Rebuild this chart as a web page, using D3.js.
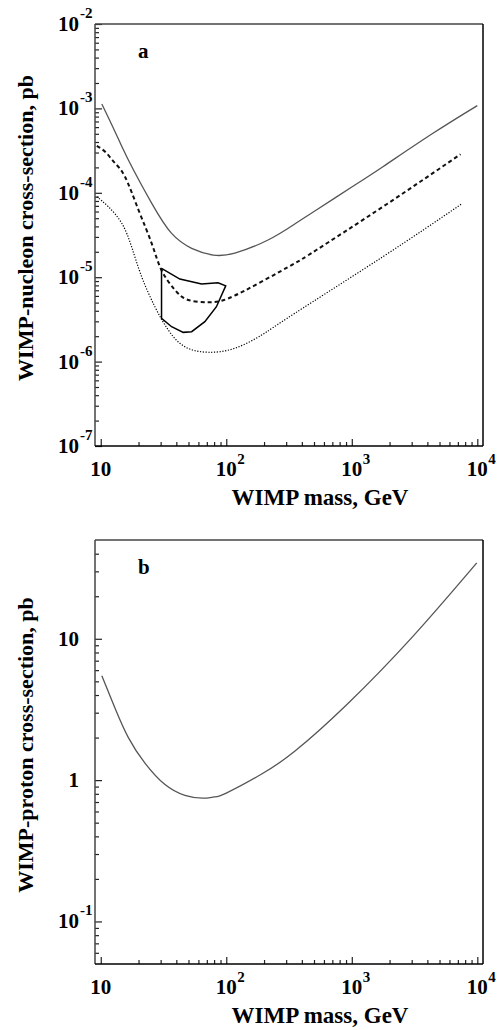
<!DOCTYPE html>
<html>
<head>
<meta charset="utf-8">
<script src="https://cdn.jsdelivr.net/npm/d3@7"></script>
<style>
  body { margin: 0; background: #fff; }
  svg text { font-family: "Liberation Serif", "Times New Roman", serif; font-weight: bold; fill: #000; }
</style>
</head>
<body>
<div id="app"></div>
<script>
// values, [mass GeV, cross-section pb]
const solidA = [[10.2, 1.13e-3], [13, 5.3e-4], [16.6, 2.45e-4], [25.5, 7.5e-5], [36.7, 3.3e-5], [53, 2.2e-5],
  [78.7, 1.83e-5], [117, 1.93e-5], [215, 2.76e-5], [351, 4.27e-5], [522, 6.25e-5], [1000, 1.17e-4],
  [1770, 2.04e-4], [4430, 5.07e-4], [10000, 1.08e-3]];
const dashedA = [[9.3, 3.6e-4], [11, 3.0e-4], [13, 2.24e-4], [15.6, 1.55e-4], [20, 6.25e-5], [25.5, 2.5e-5],
  [30.5, 1.21e-5], [39, 7.05e-6], [49.8, 5.37e-6], [71.8, 5.04e-6], [103.5, 5.6e-6], [191, 8.85e-6],
  [351, 1.46e-5], [522, 2.1e-5], [1770, 6.84e-5], [7350, 2.86e-4]];
const dottedA = [[9.3, 9e-5], [11.5, 6.84e-5], [14.7, 4.36e-5], [17.6, 2.3e-5], [21.2, 1.01e-5], [27, 4.47e-6],
  [34.5, 2.37e-6], [46.8, 1.5e-6], [71.8, 1.29e-6], [117, 1.44e-6], [191, 2.06e-6], [351, 3.73e-6],
  [1770, 1.75e-5], [7480, 7.36e-5]];
const regionA = [[30.5, 1.27e-5], [42.7, 9.5e-6], [63.6, 8.3e-6], [86, 8.6e-6], [99, 7.9e-6], [83.5, 4.47e-6],
  [67.5, 2.97e-6], [53, 2.26e-6], [45.4, 2.22e-6], [36.7, 2.59e-6], [30.5, 3.26e-6], [30.5, 1.27e-5]];
const curveB = [[10.2, 5.47], [13, 3.23], [16.6, 2.0], [22.5, 1.32], [32.5, 0.93], [46.8, 0.78], [65, 0.745],
  [80, 0.76], [100, 0.81], [190, 1.1], [351, 1.6], [906, 3.4], [3070, 10.4], [9900, 34.4]];

const massTicks = [10, 100, 1000, 10000];
const massLabels = [["10", ""], ["10", "2"], ["10", "3"], ["10", "4"]];
const sigmaTicksA = [1e-7, 1e-6, 1e-5, 1e-4, 1e-3, 1e-2];
const sigmaLabelsA = [["10", "-7"], ["10", "-6"], ["10", "-5"], ["10", "-4"], ["10", "-3"], ["10", "-2"]];
const sigmaTicksB = [0.1, 1, 10];
const sigmaLabelsB = [["10", "-1"], ["1", ""], ["10", ""]];

const W = 504, H = 1030;
const left = 95, right = 483;

const svg = d3.select("#app").append("svg")
    .attr("width", W)
    .attr("height", H);

const x = d3.scaleLog().domain([9, 11100]).range([left, right]);

// minor ticks: 2..9 of each decade inside a domain
function minorTicks(domain) {
    let out = [];
    for (let e = Math.floor(Math.log10(domain[0])); e <= Math.ceil(Math.log10(domain[1])); e++) {
        for (let k = 2; k <= 9; k++) {
            let v = k * Math.pow(10, e);
            if (v > domain[0] * 1.001 && v < domain[1] * 0.999) out.push(v);
        }
    }
    return out;
}

function drawPanel(top, bottom, yDomain, yTicks, yLabels, yTitle, letter) {
    const y = d3.scaleLog().domain(yDomain).range([bottom, top]);
    const g = svg.append("g");

    // ticks (inward), no domain path
    const addAxis = (axis, tr) => {
        const a = g.append("g").attr("transform", tr).call(axis);
        a.select(".domain").remove();
        a.selectAll("line").attr("stroke", "#222").attr("stroke-width", 1.2);
    };
    addAxis(d3.axisBottom(x).tickValues(minorTicks(x.domain())).tickSize(-4).tickFormat(""), `translate(0,${bottom})`);
    addAxis(d3.axisBottom(x).tickValues(massTicks).tickSize(-7).tickFormat(""), `translate(0,${bottom})`);
    addAxis(d3.axisLeft(y).tickValues(minorTicks(yDomain)).tickSize(-4).tickFormat(""), `translate(${left},0)`);
    addAxis(d3.axisLeft(y).tickValues(yTicks).tickSize(-7).tickFormat(""), `translate(${left},0)`);

    // frame
    g.append("line").attr("x1", left).attr("x2", left).attr("y1", top).attr("y2", bottom)
        .attr("stroke", "#444").attr("stroke-width", 1.5);
    g.append("line").attr("x1", left).attr("x2", right).attr("y1", top).attr("y2", top)
        .attr("stroke", "#444").attr("stroke-width", 1.5);
    g.append("line").attr("x1", right).attr("x2", right).attr("y1", top).attr("y2", bottom)
        .attr("stroke", "#000").attr("stroke-width", 1.5);
    g.append("line").attr("x1", left).attr("x2", right).attr("y1", bottom).attr("y2", bottom)
        .attr("stroke", "#000").attr("stroke-width", 1.5);

    // y labels: base right-aligned, exponent after
    yTicks.forEach((t, i) => {
        g.append("text").attr("x", 79).attr("y", y(t) + 7)
            .attr("text-anchor", "end").attr("font-size", 21).text(yLabels[i][0]);
        if (yLabels[i][1]) {
            g.append("text").attr("x", 80).attr("y", y(t) - 6)
                .attr("font-size", 15).text(yLabels[i][1]);
        }
    });

    // x labels: base centred on tick, exponent after
    massTicks.forEach((t, i) => {
        g.append("text").attr("x", x(t)).attr("y", bottom + 30)
            .attr("text-anchor", "middle").attr("font-size", 21).text(massLabels[i][0]);
        if (massLabels[i][1]) {
            g.append("text").attr("x", x(t) + 11).attr("y", bottom + 18)
                .attr("font-size", 15).text(massLabels[i][1]);
        }
    });

    g.append("text").attr("x", 320).attr("y", bottom + 59)
        .attr("text-anchor", "middle").attr("font-size", 23).text("WIMP mass, GeV");
    g.append("text")
        .attr("transform", `translate(33,${(top + bottom) / 2 - 7}) rotate(-90)`)
        .attr("text-anchor", "middle").attr("font-size", 22).text(yTitle);
    g.append("text").attr("x", 138).attr("y", top + 34).attr("font-size", 21).text(letter);

    return { g, y };
}

const pa = drawPanel(24, 446, [1e-7, 1e-2], sigmaTicksA, sigmaLabelsA, "WIMP-nucleon cross-section, pb", "a");
const pb = drawPanel(540, 964, [0.05, 50], sigmaTicksB, sigmaLabelsB, "WIMP-proton cross-section, pb", "b");

const lineA = d3.line().x(d => x(d[0])).y(d => pa.y(d[1])).curve(d3.curveNatural);
const lineB = d3.line().x(d => x(d[0])).y(d => pb.y(d[1])).curve(d3.curveNatural);

pa.g.append("path").attr("d", lineA(solidA))
    .attr("fill", "none").attr("stroke", "#555").attr("stroke-width", 1.3);
pa.g.append("path").attr("d", lineA(dashedA))
    .attr("fill", "none").attr("stroke", "#111").attr("stroke-width", 2).attr("stroke-dasharray", "4,3");
pa.g.append("path").attr("d", lineA(dottedA))
    .attr("fill", "none").attr("stroke", "#000").attr("stroke-width", 1.2).attr("stroke-dasharray", "1.2,1.6");
pa.g.append("path")
    .attr("d", d3.line().x(d => x(d[0])).y(d => pa.y(d[1])).curve(d3.curveLinear)(regionA))
    .attr("fill", "none").attr("stroke", "#000").attr("stroke-width", 1.5);

pb.g.append("path").attr("d", lineB(curveB))
    .attr("fill", "none").attr("stroke", "#555").attr("stroke-width", 1.3);
</script>
</body>
</html>
